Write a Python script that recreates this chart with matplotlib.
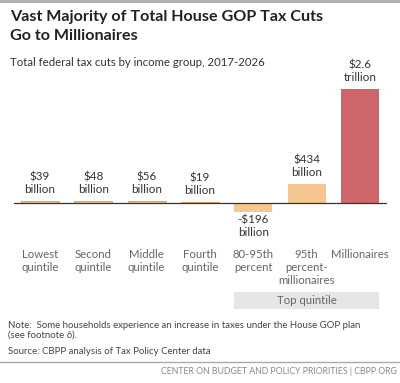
import matplotlib.pyplot as plt
from matplotlib.patches import Rectangle
from matplotlib.lines import Line2D
import matplotlib.transforms as mtransforms

plt.rcParams['font.family'] = ['Lato', 'DejaVu Sans']

groups = ["Lowest\nquintile", "Second\nquintile", "Middle\nquintile", "Fourth\nquintile",
          "80-95th\npercent", "95th\npercent-\nmillionaires", "Millionaires"]
values = [39, 48, 56, 19, -196, 434, 2600]  # billions of dollars
value_labels = ["$39\nbillion", "$48\nbillion", "$56\nbillion", "$19\nbillion",
                "-$196\nbillion", "$434\nbillion", "$2.6\ntrillion"]
colors = ["#F5C68F"] * 6 + ["#CF666B"]

W, H = 400, 383
fig = plt.figure(figsize=(W / 100, H / 100), dpi=100)


def fy(px):
    return 1 - px / H


# axes placed so baseline lands at y=203 px
ax = fig.add_axes([14 / W, fy(230), (387 - 14) / W, 170 / H])
ax.set_xlim(-0.4875, 6.506)
ax.set_ylim(-616, 3265)
ax.axis("off")

x = list(range(len(values)))
ax.bar(x, values, width=0.71, color=colors, edgecolor="none")
ax.bar(x[:4], values[:4], width=0.71, color="none", edgecolor="#D9A060", linewidth=0.6)
ax.axhline(0, color="#333333", lw=0.9)

for i, (v, lab) in enumerate(zip(values, value_labels)):
    if v >= 0:
        ax.annotate(lab, (i, v), xytext=(0, 6), textcoords="offset pixels",
                    ha="center", va="bottom", fontsize=8.4, color="#333333",
                    linespacing=1.15)
    else:
        ax.annotate(lab, (i, v), xytext=(0, -3), textcoords="offset pixels",
                    ha="center", va="top", fontsize=8.4, color="#333333",
                    linespacing=1.15)

for i, g in enumerate(groups):
    ax.annotate(g, (i, 0), xytext=(0, -46), textcoords="offset pixels",
                ha="center", va="top", fontsize=8.2, color="#666666",
                linespacing=1.2)

# top quintile bracket box
trans = mtransforms.blended_transform_factory(ax.transData, fig.transFigure)
ax.add_patch(Rectangle((3.64, fy(309)), 6.36 - 3.64, 17 / H, transform=trans,
                       facecolor="#E6E6E6", edgecolor="none", clip_on=False))
ax.text(5.0, fy(300.5), "Top quintile", transform=trans, ha="center", va="center",
        fontsize=8.2, color="#666666")

# header
fig.add_artist(Line2D([0, 1], [fy(1), fy(1)], color="#AAAAAA", lw=2))
fig.text(10 / W, fy(21.5), "Vast Majority of Total House GOP Tax Cuts",
         ha="left", va="baseline", fontsize=11.6, fontweight="bold", color="#222222")
fig.text(10 / W, fy(39.5), "Go to Millionaires",
         ha="left", va="baseline", fontsize=11.6, fontweight="bold", color="#222222")
fig.text(10 / W, fy(66), "Total federal tax cuts by income group, 2017-2026",
         ha="left", va="baseline", fontsize=8.2, color="#333333")

# footer
fig.text(8 / W, fy(327.5), "Note:  Some households experience an increase in taxes under the House GOP plan",
         ha="left", va="baseline", fontsize=6.9, color="#444444")
fig.text(8 / W, fy(338), "(see footnote 6).", ha="left", va="baseline", fontsize=6.9, color="#444444")
fig.text(8 / W, fy(353.5), "Source: CBPP analysis of Tax Policy Center data",
         ha="left", va="baseline", fontsize=6.9, color="#444444")
fig.add_artist(Line2D([0, 1], [fy(362), fy(362)], color="#AAAAAA", lw=1))
fig.text(397 / W, fy(374), "CENTER ON BUDGET AND POLICY PRIORITIES | CBPP.ORG",
         ha="right", va="baseline", fontsize=6.3, color="#888888")

fig.savefig("out.png", dpi=100)
